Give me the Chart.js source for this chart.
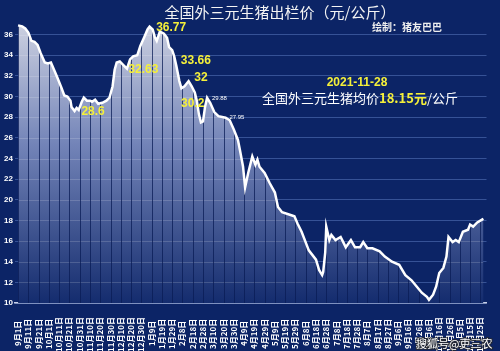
<!DOCTYPE html>
<html>
<head>
<meta charset="utf-8">
<script src="https://cdn.jsdelivr.net/npm/chart.js@4"></script>
<style>
  html, body { margin: 0; padding: 0; background: #0c2466; }
  #wrap { width: 500px; height: 351px; position: relative; }
</style>
</head>
<body>
<div id="wrap"><canvas id="c"></canvas></div>
<script>
// day index counted from 2020-09-01, price in yuan/kg
const days = [0, 4, 7, 10, 13, 16, 19, 22, 26, 29, 32, 35, 38, 42, 45, 48, 51, 52, 55, 57, 59, 62, 64, 67, 70, 72, 75, 78, 82, 86, 89, 92, 94, 96, 99, 103, 106, 109, 112, 116, 119, 123, 126, 128, 131, 133, 135, 138, 142, 145, 147, 150, 152, 154, 157, 159, 162, 166, 169, 172, 174, 176, 178, 180, 182, 184, 187, 191, 195, 202, 206, 210, 214, 216, 219, 221, 224, 228, 231, 233, 235, 240, 245, 250, 253, 257, 266, 269, 272, 276, 283, 290, 293, 296, 297, 299, 300, 303, 305, 309, 314, 317, 319, 324, 328, 333, 336, 340, 345, 352, 357, 364, 371, 377, 383, 388, 393, 398, 400, 404, 407, 410, 414, 417, 419, 423, 426, 429, 433, 438, 440, 443, 447, 452, 453];
const prices = [36.9, 36.8, 36.6, 36.2, 35.4, 35.3, 35.0, 34.2, 33.3, 33.2, 33.3, 32.6, 31.9, 30.9, 30.1, 30.0, 29.6, 29.0, 28.6, 28.9, 28.7, 29.5, 29.9, 29.6, 29.6, 29.5, 29.7, 29.3, 29.4, 29.6, 29.9, 31.0, 32.6, 33.3, 33.4, 33.0, 32.7, 33.6, 33.9, 34.0, 34.9, 35.8, 36.5, 36.77, 36.5, 35.8, 35.4, 36.3, 36.1, 35.7, 34.8, 34.5, 33.9, 33.0, 31.5, 30.8, 31.0, 31.5, 31.0, 30.4, 29.6, 28.3, 27.5, 27.6, 29.0, 29.88, 29.4, 28.5, 28.1, 27.95, 27.7, 26.8, 25.8, 24.8, 23.2, 21.2, 22.6, 24.2, 23.4, 23.9, 23.2, 22.6, 21.6, 20.7, 19.3, 18.8, 18.5, 18.4, 17.7, 16.9, 15.1, 14.2, 13.2, 12.7, 13.0, 14.9, 17.4, 16.1, 16.6, 16.1, 16.4, 15.8, 15.4, 16.1, 15.4, 15.4, 15.9, 15.3, 15.3, 15.0, 14.5, 14.0, 13.7, 12.7, 12.2, 11.6, 11.0, 10.6, 10.3, 10.8, 11.6, 12.9, 13.4, 14.5, 16.4, 15.9, 16.1, 15.9, 16.9, 17.1, 17.6, 17.4, 17.8, 18.1, 18.15];

const tickDays = [0, 10, 20, 30, 40, 50, 60, 70, 80, 90, 100, 110, 120, 130, 140, 150, 160, 170, 180, 190, 200, 210, 220, 230, 240, 250, 260, 270, 280, 290, 300, 310, 320, 330, 340, 350, 360, 370, 380, 390, 400, 410, 420, 430, 440, 450];
const tickLabels = ['9月1日', '9月11日', '9月21日', '10月1日', '10月11日', '10月21日', '10月31日', '11月10日', '11月20日', '11月30日', '12月10日', '12月20日', '12月30日', '1月9日', '1月19日', '1月29日', '2月8日', '2月18日', '2月28日', '3月10日', '3月20日', '3月30日', '4月9日', '4月19日', '4月29日', '5月9日', '5月19日', '5月29日', '6月8日', '6月18日', '6月28日', '7月8日', '7月18日', '7月28日', '8月7日', '8月17日', '8月27日', '9月6日', '9月16日', '9月26日', '10月6日', '10月16日', '10月26日', '11月5日', '11月15日', '11月25日'];
const yTicks = [10, 12, 14, 16, 18, 20, 22, 24, 26, 28, 30, 32, 34, 36];

// value labels on the curve (text centre in data coordinates)
const noteTexts = ['28.6', '32.63', '36.77', '33.66', '32', '30.2', '29.88', '27.95'];
const noteDays = [73, 122, 149, 173, 178, 170, 196, 213];
const noteVals = [28.55, 32.62, 36.7, 33.5, 31.85, 29.3, 29.8, 27.95];
const noteBig = [true, true, true, true, true, true, false, false];

const CJK = '"Noto Sans CJK SC", "Noto Sans", sans-serif';

function makeFill(chart) {
  const area = chart.chartArea;
  if (!area) return 'rgba(170,180,210,0.8)';
  const off = document.createElement('canvas');
  off.width = chart.width;
  off.height = chart.height;
  const g = off.getContext('2d');
  const grad = g.createLinearGradient(0, area.top, 0, area.bottom);
  grad.addColorStop(0, 'rgb(212,215,228)');
  grad.addColorStop(0.45, 'rgb(115,132,184)');
  grad.addColorStop(1, 'rgb(20,44,110)');
  g.fillStyle = grad;
  g.fillRect(0, 0, off.width, off.height);
  // horizontal grid showing through the fill
  const ys = chart.scales.y;
  g.strokeStyle = 'rgba(255,255,255,0.16)';
  g.lineWidth = 1;
  yTicks.forEach(v => {
    const py = Math.round(ys.getPixelForValue(v)) + 0.5;
    g.beginPath();
    g.moveTo(area.left, py);
    g.lineTo(area.right, py);
    g.stroke();
  });
  // dark stripes at every tick, only visible inside the filled area
  g.strokeStyle = 'rgba(10,28,85,0.75)';
  const xs = chart.scales.x;
  tickDays.forEach(d => {
    const px = Math.round(xs.getPixelForValue(d)) + 0.5;
    g.beginPath();
    g.moveTo(px, area.top);
    g.lineTo(px, area.bottom);
    g.stroke();
  });
  return chart.ctx.createPattern(off, 'no-repeat');
}

const bgPlugin = {
  id: 'bg',
  beforeDraw(chart) {
    const c = chart.ctx;
    c.save();
    c.fillStyle = '#0c2466';
    c.fillRect(0, 0, chart.width, chart.height);
    c.restore();
  }
};

const textPlugin = {
  id: 'texts',
  afterDraw(chart) {
    const c = chart.ctx;
    const xs = chart.scales.x, ys = chart.scales.y;
    c.save();
    c.textBaseline = 'middle';

    // curve labels
    c.textAlign = 'center';
    noteTexts.forEach((t, i) => {
      c.font = noteBig[i] ? 'bold 12px "Liberation Sans", Arial, sans-serif' : '6px "Liberation Sans", Arial, sans-serif';
      c.fillStyle = noteBig[i] ? '#f5f03a' : '#ffffff';
      c.fillText(t, xs.getPixelForValue(noteDays[i]), ys.getPixelForValue(noteVals[i]));
    });

    // title
    c.fillStyle = '#f4f4f4';
    c.font = '15px ' + CJK;
    c.fillText('全国外三元生猪出栏价（元/公斤）', 280, 12);
    c.font = 'bold 10px ' + CJK;
    c.fillStyle = '#eeeeee';
    c.fillText('绘制：猪友巴巴', 407, 27);

    // latest price note
    c.font = 'bold 12px "Liberation Sans", Arial, sans-serif';
    c.fillStyle = '#f5f03a';
    c.fillText('2021-11-28', 357, 83);
    c.textAlign = 'left';
    const p1 = '全国外三元生猪均价', p2 = '18.15元', p3 = '/公斤';
    let x = 262;
    c.font = '13px ' + CJK;
    c.fillStyle = '#ffffff';
    c.fillText(p1, x, 98);
    x += c.measureText(p1).width;
    c.font = 'bold 13px ' + CJK;
    c.fillStyle = '#f5f03a';
    c.fillText(p2, x, 98);
    x += c.measureText(p2).width;
    c.font = '13px ' + CJK;
    c.fillStyle = '#ffffff';
    c.fillText(p3, x, 98);

    // watermark
    c.font = '11px ' + CJK;
    c.lineWidth = 2;
    c.strokeStyle = 'rgba(40,40,40,0.8)';
    c.strokeText('搜狐号@吏三农', 416, 344);
    c.fillStyle = '#ffffff';
    c.fillText('搜狐号@吏三农', 416, 344);
    c.restore();
  }
};

const points = days.map((d, i) => ({ x: d, y: prices[i] }));

new Chart(document.getElementById('c'), {
  type: 'line',
  data: {
    datasets: [{
      data: points,
      borderColor: '#ffffff',
      borderWidth: 2.5,
      pointRadius: 0,
      tension: 0,
      fill: 'start',
      backgroundColor: ctx => makeFill(ctx.chart)
    }]
  },
  options: {
    responsive: true,
    maintainAspectRatio: false,
    animation: false,
    layout: { padding: { top: 14, right: 4, left: 0, bottom: 0 } },
    plugins: { legend: { display: false }, tooltip: { enabled: false } },
    scales: {
      x: {
        type: 'linear',
        min: -3,
        max: 456,
        afterBuildTicks: axis => { axis.ticks = tickDays.map(v => ({ value: v })); },
        afterFit: axis => { axis.height = 48; },
        grid: { display: false, drawTicks: true, tickLength: 4, tickColor: '#c8d0e8' },
        border: { display: true, color: '#c8d0e8', width: 1.5 },
        ticks: {
          autoSkip: false,
          minRotation: 90,
          maxRotation: 90,
          padding: 10,
          color: '#ffffff',
          font: { family: CJK, size: 8, weight: 'bold' },
          callback: (v, i) => {
            const lab = tickLabels[i];
            const n = lab.replace(/\D/g, '').length;
            return lab + ' '.repeat(4 - n);
          }
        }
      },
      y: {
        min: 10,
        max: 38,
        afterBuildTicks: axis => { axis.ticks = yTicks.map(v => ({ value: v })); },
        afterFit: axis => { axis.width = 15; },
        grid: { color: 'rgba(90,120,190,0.55)', lineWidth: 1, drawTicks: false },
        border: { display: false },
        ticks: {
          padding: 2,
          color: '#ffffff',
          font: { family: '"Liberation Sans", Arial, sans-serif', size: 8, weight: 'bold' }
        }
      }
    }
  },
  plugins: [bgPlugin, textPlugin]
});
</script>
</body>
</html>
